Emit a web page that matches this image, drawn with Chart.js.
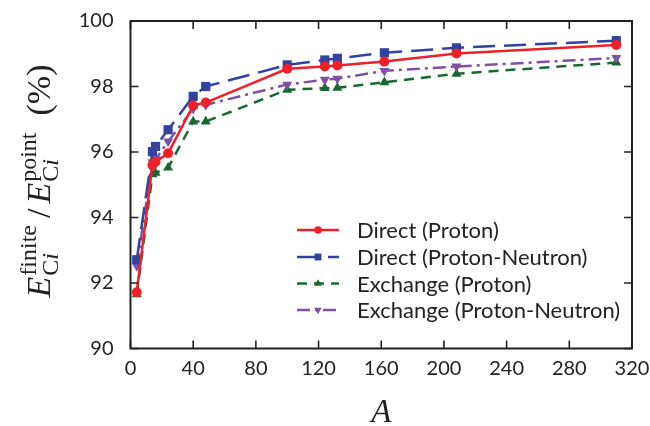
<!DOCTYPE html>
<html><head><meta charset="utf-8">
<script src="https://cdn.jsdelivr.net/npm/chart.js@4.4.1/dist/chart.umd.min.js"></script>
<style>html,body{margin:0;padding:0;background:#fff;}#wrap{width:650px;height:426px;position:relative;}</style>
</head><body><div id="wrap"><canvas id="c" width="650" height="426"></canvas></div>
<script>
const massNumbers = [4, 14, 16, 24, 40, 48, 100, 124, 132, 162, 208, 310];
const directProton = [91.72, 95.60, 95.70, 95.96, 97.42, 97.51, 98.54, 98.61, 98.64, 98.76, 99.01, 99.27];
const directProtonNeutron = [92.71, 96.01, 96.17, 96.68, 97.70, 98.00, 98.66, 98.81, 98.86, 99.03, 99.18, 99.40];
const exchangeProton = [91.65, 95.32, 95.36, 95.52, 96.93, 96.93, 97.90, 97.95, 97.96, 98.13, 98.39, 98.73];
const exchangeProtonNeutron = [92.52, 95.69, 95.78, 96.32, 97.32, 97.44, 98.06, 98.21, 98.24, 98.48, 98.61, 98.87];
const seriesLabels = ['Direct (Proton)', 'Direct (Proton-Neutron)', 'Exchange (Proton)', 'Exchange (Proton-Neutron)'];
const xTickValues = [0, 40, 80, 120, 160, 200, 240, 280, 320];
const yTickValues = [90, 92, 94, 96, 98, 100];

const RED = 'rgb(238,32,40)', BLUE = 'rgb(50,66,158)', GREEN = 'rgb(26,102,52)', PURPLE = 'rgb(124,82,164)';
const toPts = arr => massNumbers.map((a, i) => ({x: a, y: arr[i]}));

const datasets = [
  {label: seriesLabels[0], data: toPts(directProton), borderColor: RED, backgroundColor: RED,
   borderWidth: 2.5, pointStyle: 'circle', pointRadius: 5, borderDash: [], order: 1},
  {label: seriesLabels[1], data: toPts(directProtonNeutron), borderColor: BLUE, backgroundColor: BLUE,
   borderWidth: 2.5, pointStyle: 'rect', pointRadius: 6.5, borderDash: [22, 9], order: 2},
  {label: seriesLabels[2], data: toPts(exchangeProton), borderColor: GREEN, backgroundColor: GREEN,
   borderWidth: 2.5, pointStyle: 'triangle', pointRadius: 5.8, borderDash: [10, 7], order: 4},
  {label: seriesLabels[3], data: toPts(exchangeProtonNeutron), borderColor: PURPLE, backgroundColor: PURPLE,
   borderWidth: 2.5, pointStyle: 'triangle', pointRotation: 180, pointRadius: 5.8, borderDash: [13, 5, 3, 5], order: 3}
];
datasets.forEach(d => { d.pointBorderWidth = 0; d.tension = 0; d.fill = false; d.clip = false; d.pointHoverRadius = d.pointRadius; });

const TICK_FONT = {family: 'Lato, "Liberation Sans", sans-serif', size: 20};
const INK = '#222';

function drawRich(ctx, runs) {
  let x = 0;
  for (const r of runs) {
    if (r.t !== undefined) {
      ctx.font = r.f; ctx.fillText(r.t, x, r.dy || 0); x += ctx.measureText(r.t).width + (r.gap || 0);
    } else {
      let w1 = 0, w2 = 0;
      for (const s of r.sup) { ctx.font = s.f; ctx.fillText(s.t, x + w1, r.supDy); w1 += ctx.measureText(s.t).width; }
      for (const s of r.sub) { ctx.font = s.f; ctx.fillText(s.t, x + w2, r.subDy); w2 += ctx.measureText(s.t).width; }
      x += Math.max(w1, w2) + (r.gap || 0);
    }
  }
  return x;
}
function measureRich(ctx, runs) {
  ctx.save(); ctx.globalAlpha = 0; const w = drawRich(ctx, runs); ctx.restore(); return w;
}

const frame = {
  id: 'frame',
  afterDraw(chart) {
    const {ctx, chartArea: ca, scales} = chart;
    ctx.save();
    ctx.strokeStyle = INK; ctx.lineWidth = 2;
    ctx.strokeRect(ca.left, ca.top, ca.right - ca.left, ca.bottom - ca.top);
    ctx.lineWidth = 1.6;
    ctx.beginPath();
    for (const v of xTickValues) {
      const px = scales.x.getPixelForValue(v);
      ctx.moveTo(px, ca.bottom); ctx.lineTo(px, ca.bottom - 8);
      ctx.moveTo(px, ca.top); ctx.lineTo(px, ca.top + 8);
    }
    for (const v of yTickValues) {
      const py = scales.y.getPixelForValue(v);
      ctx.moveTo(ca.left, py); ctx.lineTo(ca.left + 8, py);
      ctx.moveTo(ca.right, py); ctx.lineTo(ca.right - 8, py);
    }
    ctx.stroke();

    // x title
    ctx.fillStyle = INK;
    ctx.font = 'italic 33px "Liberation Serif", serif';
    ctx.textAlign = 'center'; ctx.textBaseline = 'alphabetic';
    ctx.fillText('A', (ca.left + ca.right) / 2, 422);

    // y title
    const R = '"Liberation Serif", serif';
    const big = '34px ' + R, bigI = 'italic 34px ' + R, sm = '24px ' + R, smI = 'italic 24px ' + R;
    const runs = [
      {t: 'E', f: bigI, gap: 1},
      {sup: [{t: 'finite', f: sm}], sub: [{t: 'C', f: sm}, {t: 'i', f: smI}], supDy: -14, subDy: 8, gap: 7},
      {t: '/', f: big, gap: 5},
      {t: 'E', f: bigI, gap: 1},
      {sup: [{t: 'point', f: sm}], sub: [{t: 'C', f: sm}, {t: 'i', f: smI}], supDy: -14, subDy: 8, gap: 17},
      {t: '(%)', f: big}
    ];
    ctx.textAlign = 'left';
    const w = measureRich(ctx, runs);
    ctx.translate(50, 181 + w / 2);
    ctx.rotate(-Math.PI / 2);
    ctx.fillStyle = INK;
    drawRich(ctx, runs);
    ctx.restore();

    // legend
    ctx.save();
    const rows = [230, 257, 283.5, 310];
    chart.data.datasets.forEach((d, i) => {
      const y = rows[i];
      ctx.strokeStyle = d.borderColor; ctx.fillStyle = d.backgroundColor;
      ctx.lineWidth = 2.5; ctx.setLineDash(d.borderDash);
      ctx.beginPath(); ctx.moveTo(297, y); ctx.lineTo(339, y); ctx.stroke();
      ctx.setLineDash([]);
      Chart.helpers.drawPoint(ctx, {pointStyle: d.pointStyle, rotation: d.pointRotation || 0, radius: d.pointRadius * 0.75, borderWidth: 0}, 318, y);
      ctx.fillStyle = INK;
      ctx.font = '22px ' + TICK_FONT.family;
      ctx.textBaseline = 'middle'; ctx.textAlign = 'left';
      ctx.fillText(d.label, 357, y + 1);
    });
    ctx.restore();
  }
};

new Chart(document.getElementById('c'), {
  type: 'line',
  data: {datasets},
  options: {
    responsive: false, animation: false, devicePixelRatio: 1,
    layout: {padding: {top: 17, right: 18, left: 0, bottom: 0}},
    plugins: {legend: {display: false}, tooltip: {enabled: false}},
    scales: {
      x: {type: 'linear', min: 0, max: 320,
        afterBuildTicks: s => { s.ticks = xTickValues.map(v => ({value: v})); },
        afterFit: s => { s.height = 77.5; },
        grid: {display: false}, border: {display: false},
        ticks: {font: TICK_FONT, color: INK, padding: 0, maxRotation: 0, autoSkip: false}},
      y: {type: 'linear', min: 90, max: 100,
        afterBuildTicks: s => { s.ticks = yTickValues.map(v => ({value: v})); },
        afterFit: s => { s.width = 130.5; },
        grid: {display: false}, border: {display: false},
        ticks: {font: TICK_FONT, color: INK, padding: 9}}
    }
  },
  plugins: [frame]
});
</script></body></html>
